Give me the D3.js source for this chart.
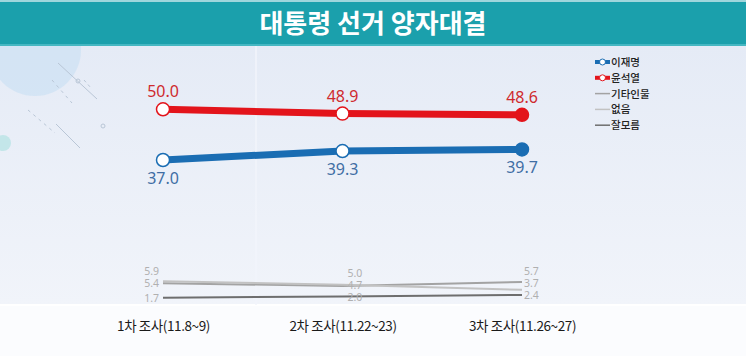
<!DOCTYPE html>
<html><head><meta charset="utf-8">
<script src="https://cdn.jsdelivr.net/npm/d3@7"></script>
<style>body{margin:0;background:#fff}svg{display:block}</style>
</head><body>
<script>
const title = "대통령 선거 양자대결";
const categories = ["1차 조사(11.8~9)", "2차 조사(11.22~23)", "3차 조사(11.26~27)"];
const seriesNames = ["이재명", "윤석열", "기타인물", "없음", "잘모름"];
const lee = [37.0, 39.3, 39.7];
const yoon = [50.0, 48.9, 48.6];
const otherPerson = [5.4, 4.7, 5.7];
const noneAnswer = [5.9, 5.0, 3.7];
const dontKnow = [1.7, 2.0, 2.4];

const W = 746, H = 356;
const KR = "'Noto Sans CJK KR','Noto Sans',sans-serif";
const svg = d3.select("body").append("svg").attr("width", W).attr("height", H);
const defs = svg.append("defs");
const g1 = defs.append("linearGradient").attr("id","bg").attr("x1",0).attr("y1",0).attr("x2",0).attr("y2",1);
g1.append("stop").attr("offset","0%").attr("stop-color","#e5ebf6");
g1.append("stop").attr("offset","100%").attr("stop-color","#f1f4fa");

// background
svg.append("rect").attr("x",0).attr("y",0).attr("width",W).attr("height",H).attr("fill","#ffffff");
svg.append("rect").attr("x",0).attr("y",46).attr("width",W).attr("height",259).attr("fill","url(#bg)");
svg.append("rect").attr("x",0).attr("y",305).attr("width",W).attr("height",51).attr("fill","#fbfcfe");
svg.append("line").attr("x1",0).attr("x2",W).attr("y1",305).attr("y2",305).attr("stroke","#ffffff").attr("stroke-width",2);
// decorations
svg.append("circle").attr("cx",35).attr("cy",50).attr("r",46).attr("fill","#cfe2f4").attr("opacity",0.8);
svg.append("circle").attr("cx",3).attr("cy",143).attr("r",8).attr("fill","#c3e6e9");
const deco = svg.append("g").attr("stroke","#b9c6d6").attr("stroke-width",1).attr("fill","none");
deco.append("line").attr("x1",58).attr("y1",63).attr("x2",97).attr("y2",99);
deco.append("line").attr("x1",52).attr("y1",80).attr("x2",72).attr("y2",103).attr("stroke-dasharray","3,4");
deco.append("line").attr("x1",84).attr("y1",80).attr("x2",91).attr("y2",88).attr("stroke-dasharray","3,3");
deco.append("line").attr("x1",28).attr("y1",110).attr("x2",55).attr("y2",133).attr("stroke-dasharray","3,4");
deco.append("line").attr("x1",56).attr("y1",124).attr("x2",80).attr("y2",148);
deco.append("circle").attr("cx",78).attr("cy",81).attr("r",2);
deco.append("circle").attr("cx",103).attr("cy",126).attr("r",2);
svg.append("line").attr("x1",256).attr("x2",256).attr("y1",46).attr("y2",305).attr("stroke","#f2f5fb").attr("stroke-width",1.5);

// title bar
svg.append("rect").attr("x",0).attr("y",0).attr("width",W).attr("height",46).attr("fill","#1ba0ac");
svg.append("rect").attr("x",0).attr("y",0).attr("width",W).attr("height",2).attr("fill","#9fd6dc");
svg.append("rect").attr("x",0).attr("y",44).attr("width",W).attr("height",2).attr("fill","#45b7c2");
svg.append("text").attr("x",373).attr("y",33).attr("text-anchor","middle")
  .attr("font-family",KR).attr("font-weight",700).attr("font-size",26).attr("fill","#ffffff").text(title);

// scales
const x = d3.scalePoint().domain(categories).range([163, 522]);
const y = d3.scaleLinear().domain([0, 50]).range([304.3, 109.3]);

// x axis
const xAxis = svg.append("g").attr("transform","translate(0,305)")
  .call(d3.axisBottom(x).tickSize(0).tickPadding(16));
xAxis.select(".domain").remove();
xAxis.selectAll("text").attr("font-family",KR).attr("font-size",13.5).attr("font-weight",400)
  .attr("letter-spacing","-0.4px").attr("fill","#1a1a1a");

const line = d3.line().x((d,i)=>x(categories[i])).y(d=>y(d));

// gray series
const grays = [
  {name:"기타인물", data: otherPerson, color:"#a3a3a3"},
  {name:"없음", data: noneAnswer, color:"#c2c2c2"},
  {name:"잘모름", data: dontKnow, color:"#6e6e6e"}
];
grays.forEach(s=>{
  svg.append("path").datum(s.data).attr("d",line).attr("fill","none")
    .attr("stroke",s.color).attr("stroke-width",2);
});
// gray labels stacked to avoid overlap
categories.forEach((c,ci)=>{
  const items = grays.map(s=>({v:s.data[ci], yy:y(s.data[ci])})).sort((a,b)=>b.yy-a.yy);
  let prev = Infinity;
  items.forEach(it=>{
    const ly = Math.min(it.yy, prev - 12);
    prev = ly;
    svg.append("text")
      .attr("x", ci===0 ? x(c)-4 : x(c)+(ci===1?5:2))
      .attr("y", ly+4)
      .attr("text-anchor", ci===0 ? "end" : "start")
      .attr("font-family","'Noto Sans',sans-serif").attr("font-size",10.5)
      .attr("fill","#b0b0b0").text(it.v.toFixed(1));
  });
});

// main series
const mains = [
  {name:"윤석열", data: yoon, color:"#e3141b", label:"#cf2a2e", dy:-12},
  {name:"이재명", data: lee, color:"#1a6db3", label:"#3f6ea4", dy:24}
];
mains.forEach(s=>{
  svg.append("path").datum(s.data).attr("d",line).attr("fill","none")
    .attr("stroke",s.color).attr("stroke-width",7);
  s.data.forEach((v,i)=>{
    const last = i===s.data.length-1;
    svg.append("circle").attr("cx",x(categories[i])).attr("cy",y(v)).attr("r",6.5)
      .attr("fill", last ? s.color : "#ffffff").attr("stroke",s.color).attr("stroke-width",1.5);
    svg.append("text").attr("x",x(categories[i])).attr("y",y(v)+s.dy)
      .attr("text-anchor","middle").attr("font-family","'Noto Sans',sans-serif")
      .attr("font-size",16).attr("fill",s.label).text(v.toFixed(1));
  });
});

// legend
const legendItems = [
  {name:"이재명", color:"#1a6db3", main:true},
  {name:"윤석열", color:"#e3141b", main:true},
  {name:"기타인물", color:"#a3a3a3"},
  {name:"없음", color:"#c2c2c2"},
  {name:"잘모름", color:"#6e6e6e"}
];
const lg = svg.append("g").attr("transform","translate(595,62)");
legendItems.forEach((d,i)=>{
  const gy = i*15.8;
  const it = lg.append("g").attr("transform",`translate(0,${gy})`);
  it.append("line").attr("x1",0).attr("x2",15).attr("y1",0).attr("y2",0)
    .attr("stroke",d.color).attr("stroke-width",d.main?4:1.5);
  if(d.main){
    it.append("circle").attr("cx",7.5).attr("cy",0).attr("r",3).attr("fill","#fff").attr("stroke",d.color).attr("stroke-width",1);
  }
  it.append("text").attr("x",16).attr("y",4).attr("font-family",KR).attr("font-size",10.5)
    .attr("font-weight",500).attr("fill","#222").text(d.name);
});
</script>
</body></html>
